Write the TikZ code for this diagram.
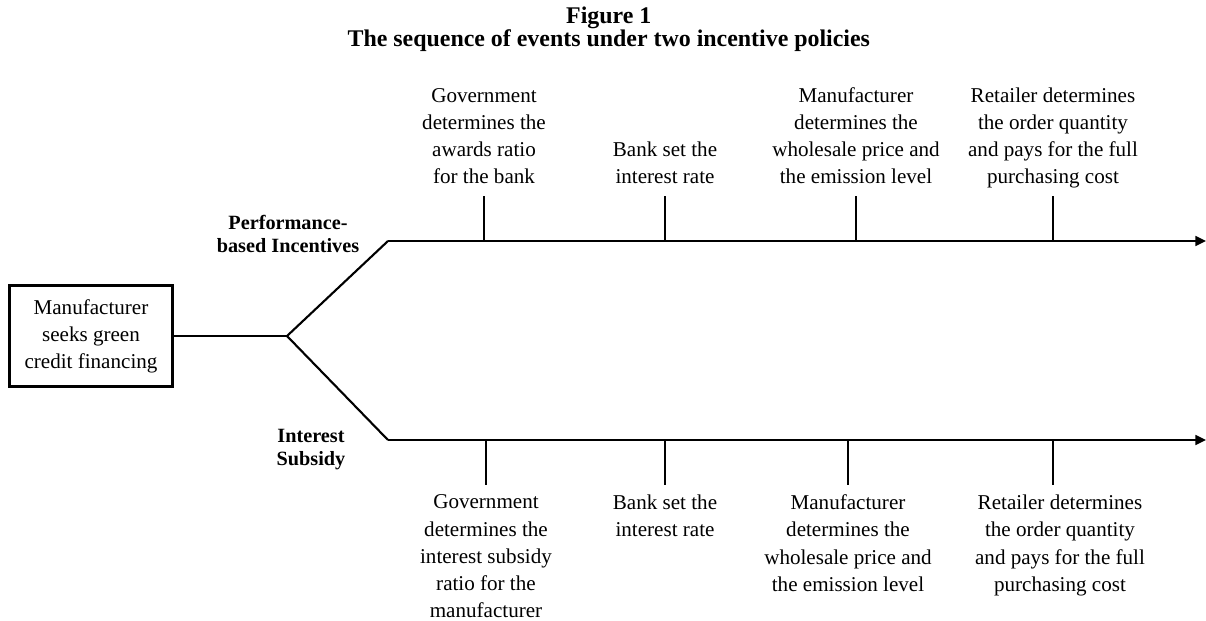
\documentclass[tikz,border=0pt]{standalone}
\usepackage{fontspec}
\setmainfont{Liberation Serif}
\usetikzlibrary{arrows.meta,positioning}

\begin{document}
\begin{tikzpicture}[line width = 1.5pt,
                      start/.style = {draw, align = center, minimum width = 4.075cm, minimum height = 2.525cm,
                                      font = \fontsize{15}{19.2}\selectfont},
                      event/.style = {align = center, inner sep = 0pt, text depth = 0pt,
                                      font = \fontsize{15}{19.4}\selectfont},
                      policy/.style = {align = center, font = \fontsize{14.4}{16.5}\selectfont\bfseries},
                      timeline/.style = {-{Triangle[length = 7.5pt, width = 7pt]}}]
    \useasboundingbox (0, 0) rectangle (30.15, -15.525);

    % title
    \node [align = center, font = \fontsize{17}{16.5}\selectfont\bfseries] (title) at (15.22, -0.73)
        {Figure 1\\The sequence of events under two incentive policies};

    % start box and the fork
    \node [start] (m) at (2.275, -8.4) {Manufacturer\\seeks green\\credit financing};
    \coordinate (b) at (7.175, -8.4);
    \coordinate (u0) at (9.7, -6.025);
    \coordinate (d0) at (9.7, -11.0);
    \coordinate (u5) at (30.15, -6.025);
    \coordinate (d5) at (30.15, -11.0);

    \draw (m) -- (b);
    \draw (b) -- (u0);
    \draw (b) -- (d0);
    \draw [timeline] (u0) -- (u5);
    \draw [timeline] (d0) -- (d5);

    \node [policy] (pbi) at (7.2, -5.84) {Performance-\\based Incentives};
    \node [policy] (is) at (7.775, -11.24) {Interest\\Subsidy};

    % upper line: ticks and events
    \coordinate (u1) at (12.1, -6.025);
    \coordinate (u2) at (16.625, -6.025);
    \coordinate (u3) at (21.4, -6.025);
    \coordinate (u4) at (26.325, -6.025);
    \coordinate (ut1) at (12.1, -4.9);
    \coordinate (ut2) at (16.625, -4.9);
    \coordinate (ut3) at (21.4, -4.9);
    \coordinate (ut4) at (26.325, -4.9);
    \draw (u1) -- (ut1);
    \draw (u2) -- (ut2);
    \draw (u3) -- (ut3);
    \draw (u4) -- (ut4);

    \node [event, above = 0.275cm of ut1] (ue1) {Government\\determines the\\awards ratio\\for the bank};
    \node [event, above = 0.275cm of ut2] (ue2) {Bank set the\\interest rate};
    \node [event, above = 0.275cm of ut3] (ue3) {Manufacturer\\determines the\\wholesale price and\\the emission level};
    \node [event, above = 0.275cm of ut4] (ue4) {Retailer determines\\the order quantity\\and pays for the full\\purchasing cost};

    % lower line: ticks and events
    \coordinate (d1) at (12.15, -11.0);
    \coordinate (d2) at (16.625, -11.0);
    \coordinate (d3) at (21.2, -11.0);
    \coordinate (d4) at (26.325, -11.0);
    \coordinate (dt1) at (12.15, -12.125);
    \coordinate (dt2) at (16.625, -12.125);
    \coordinate (dt3) at (21.2, -12.125);
    \coordinate (dt4) at (26.325, -12.125);
    \draw (d1) -- (dt1);
    \draw (d2) -- (dt2);
    \draw (d3) -- (dt3);
    \draw (d4) -- (dt4);

    \node [event, below = 0.22cm of dt1] (de1) {Government\\determines the\\interest subsidy\\ratio for the\\manufacturer};
    \node [event, below = 0.22cm of dt2] (de2) {Bank set the\\interest rate};
    \node [event, below = 0.22cm of dt3] (de3) {Manufacturer\\determines the\\wholesale price and\\the emission level};
    \node [event, below = 0.22cm of dt4, xshift = 0.175cm] (de4) {Retailer determines\\the order quantity\\and pays for the full\\purchasing cost};
    \end{tikzpicture}
\end{document}
